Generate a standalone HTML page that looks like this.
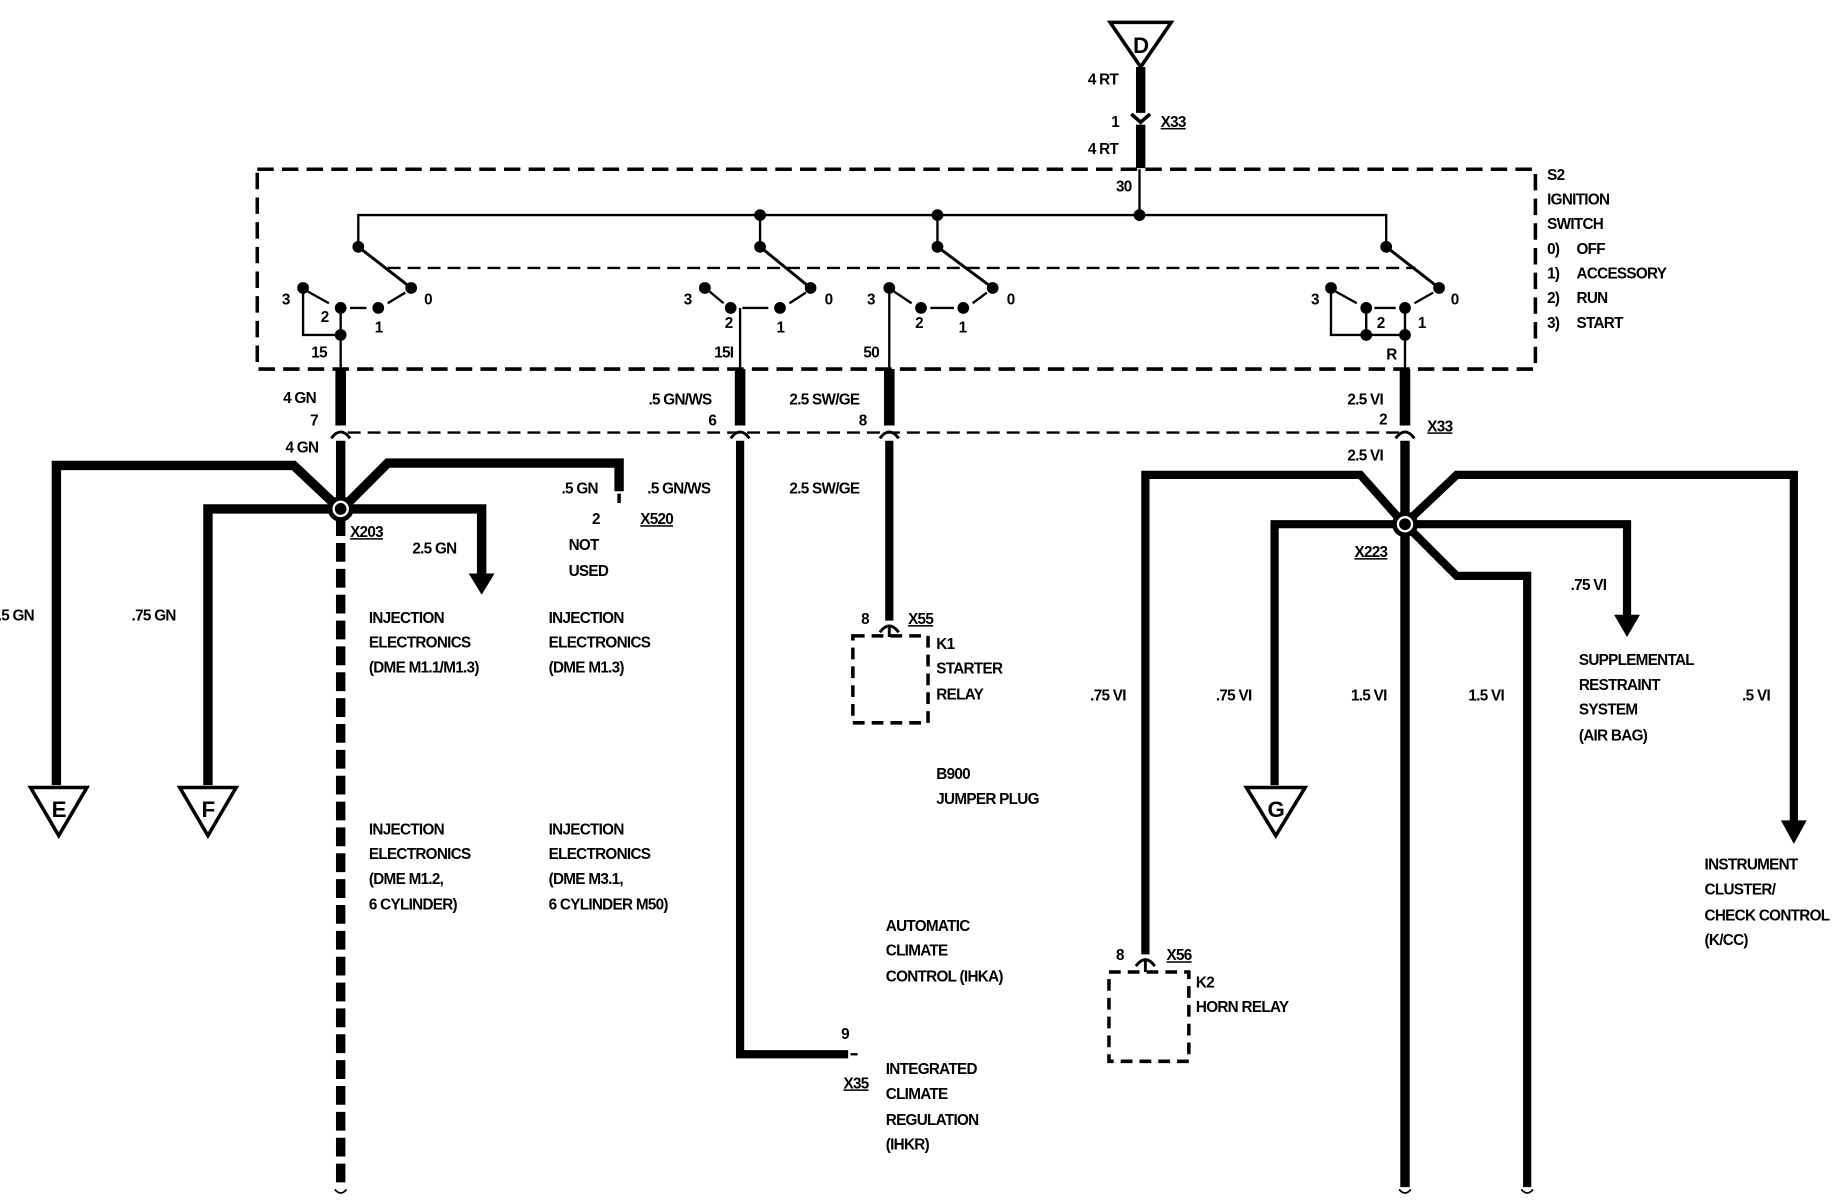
<!DOCTYPE html>
<html><head><meta charset="utf-8"><style>
html,body{margin:0;padding:0;background:#fff;}
svg{display:block;}
text{font-family:"Liberation Sans",sans-serif;font-weight:bold;font-size:13px;fill:#000;letter-spacing:-0.6px;}
</style></head><body>
<svg width="1842" height="1200" viewBox="0 0 1568 1021" preserveAspectRatio="none" xmlns="http://www.w3.org/2000/svg">
<g fill="none" stroke="#000" stroke-linecap="butt" stroke-linejoin="miter">
<polygon points="945,19 997,19 971,57" stroke-width="3" fill="#fff"/>
<line x1="971" y1="57" x2="971" y2="96" stroke-width="8"/>
<path d="M963,97 L971,104 L979,97" stroke-width="3"/>
<line x1="971" y1="106" x2="971" y2="143" stroke-width="8"/>
<rect x="219" y="144" width="1088" height="170" stroke-width="3" stroke-dasharray="14,7"/>
<line x1="970" y1="144" x2="970" y2="183" stroke-width="2"/>
<polyline points="305,208 305,183 1180,183 1180,208" stroke-width="2"/>
<line x1="647" y1="183" x2="647" y2="210" stroke-width="2"/>
<line x1="798" y1="183" x2="798" y2="210" stroke-width="2"/>
<line x1="305" y1="210" x2="350" y2="245" stroke-width="2.5"/>
<line x1="647" y1="210" x2="690" y2="245" stroke-width="2.5"/>
<line x1="798" y1="210" x2="845" y2="245" stroke-width="2.5"/>
<line x1="1180" y1="210" x2="1225" y2="245" stroke-width="2.5"/>
<line x1="330" y1="228" x2="1205" y2="228" stroke-width="2" stroke-dasharray="11,6"/>
<path d="M262,248 L280,258 M298,262 L312,262 M330,258 L345,249" stroke-width="2"/>
<path d="M604,248 L616,258 M632,262 L654,262 M672,258 L686,249" stroke-width="2"/>
<path d="M761,248 L776,258 M792,262 L812,262 M828,258 L840,249" stroke-width="2"/>
<path d="M1137,248 L1155,258 M1170,262 L1188,262 M1204,258 L1220,249" stroke-width="2"/>
<polyline points="258,245 258,285 290,285" stroke-width="2"/>
<line x1="290" y1="262" x2="290" y2="314" stroke-width="2"/>
<line x1="630" y1="262" x2="630" y2="314" stroke-width="2"/>
<line x1="757" y1="245" x2="757" y2="314" stroke-width="2"/>
<polyline points="1133,245 1133,285 1196,285" stroke-width="2"/>
<line x1="1163" y1="262" x2="1163" y2="285" stroke-width="2"/>
<line x1="1196" y1="262" x2="1196" y2="314" stroke-width="2"/>
<line x1="290" y1="314" x2="290" y2="362" stroke-width="9"/>
<line x1="630" y1="314" x2="630" y2="362" stroke-width="9"/>
<line x1="757" y1="314" x2="757" y2="362" stroke-width="9"/>
<line x1="1196" y1="314" x2="1196" y2="362" stroke-width="9"/>
<line x1="296" y1="368" x2="1192" y2="368" stroke-width="2" stroke-dasharray="11,6"/>
<path d="M282,373 Q290,362 298,373 M622,373 Q630,362 638,373 M749,373 Q757,362 765,373 M1188,373 Q1196,362 1204,373" stroke-width="2.5"/>
<line x1="290" y1="375" x2="290" y2="428" stroke-width="8"/>
<polyline points="284,428 250,396 48,396 48,668" stroke-width="8"/>
<polyline points="282,433 177,433 177,668" stroke-width="8"/>
<polyline points="296,428 330,394 527,394 527,418" stroke-width="8"/>
<line x1="527" y1="420" x2="527" y2="428" stroke-width="3"/>
<polyline points="298,433 410,433 410,490" stroke-width="8"/>
<polygon points="399,488 421,488 410,506" fill="#000" stroke="none"/>
<line x1="290" y1="440" x2="290" y2="1010" stroke-width="8" stroke-dasharray="16,6"/>
<polygon points="26,670 74,670 50,711" stroke-width="3" fill="#fff"/>
<polygon points="153,670 201,670 177,711" stroke-width="3" fill="#fff"/>
<polyline points="630,375 630,897 722,897" stroke-width="7"/>
<line x1="724" y1="897" x2="730" y2="897" stroke-width="2"/>
<line x1="757" y1="375" x2="757" y2="528" stroke-width="7"/>
<path d="M749,538 Q757,527 765,538 M757,533 L757,542" stroke-width="2.5"/>
<rect x="726" y="541" width="64" height="74" stroke-width="3" stroke-dasharray="10,6"/>
<line x1="1196" y1="375" x2="1196" y2="1010" stroke-width="8"/>
<polyline points="1190,440 1158,404 975,404 975,812" stroke-width="7"/>
<path d="M967,822 Q975,811 983,822 M975,817 L975,827" stroke-width="2.5"/>
<rect x="944" y="827" width="68" height="76" stroke-width="3" stroke-dasharray="10,6"/>
<polyline points="1188,446 1085,446 1085,668" stroke-width="7"/>
<polygon points="1061,670 1111,670 1086,711" stroke-width="3" fill="#fff"/>
<polyline points="1202,440 1240,404 1527,404 1527,700" stroke-width="7"/>
<polygon points="1516,698 1538,698 1527,718" fill="#000" stroke="none"/>
<polyline points="1204,446 1385,446 1385,525" stroke-width="7"/>
<polygon points="1374,523 1396,523 1385,542" fill="#000" stroke="none"/>
<polyline points="1202,452 1240,490 1300,490 1300,1010" stroke-width="7"/>
<path d="M285,1012 q5,6 10,0 M1191,1012 q5,6 10,0 M1295,1012 q5,6 10,0" stroke-width="1.5"/>
</g>
<g fill="#000">
<circle cx="305" cy="210" r="5"/><circle cx="350" cy="245" r="5"/><circle cx="258" cy="245" r="5"/><circle cx="290" cy="262" r="5"/><circle cx="322" cy="262" r="5"/><circle cx="290" cy="285" r="5"/>
<circle cx="647" cy="183" r="5"/><circle cx="647" cy="210" r="5"/><circle cx="690" cy="245" r="5"/><circle cx="600" cy="245" r="5"/><circle cx="622" cy="262" r="5"/><circle cx="664" cy="262" r="5"/>
<circle cx="798" cy="183" r="5"/><circle cx="798" cy="210" r="5"/><circle cx="845" cy="245" r="5"/><circle cx="757" cy="245" r="5"/><circle cx="784" cy="262" r="5"/><circle cx="820" cy="262" r="5"/>
<circle cx="970" cy="183" r="5"/>
<circle cx="1180" cy="210" r="5"/><circle cx="1225" cy="245" r="5"/><circle cx="1133" cy="245" r="5"/><circle cx="1163" cy="262" r="5"/><circle cx="1196" cy="262" r="5"/><circle cx="1163" cy="285" r="5"/><circle cx="1196" cy="285" r="5"/>
<circle cx="290" cy="433" r="11"/><circle cx="290" cy="433" r="7" fill="#fff"/><circle cx="290" cy="433" r="5"/>
<circle cx="1196" cy="446" r="11"/><circle cx="1196" cy="446" r="7" fill="#fff"/><circle cx="1196" cy="446" r="5"/>
</g>
<g>
<text x="971" y="45" text-anchor="middle" style="font-size:19px">D</text>
<text x="50" y="695" text-anchor="middle" style="font-size:19px">E</text>
<text x="177" y="695" text-anchor="middle" style="font-size:19px">F</text>
<text x="1086" y="695" text-anchor="middle" style="font-size:19px">G</text>
<text x="926" y="72">4 RT</text><text x="946" y="108">1</text><text x="988" y="108" text-decoration="underline">X33</text><text x="926" y="131">4 RT</text>
<text x="950" y="163">30</text>
<text x="1317" y="153">S2</text><text x="1317" y="174">IGNITION</text><text x="1317" y="195">SWITCH</text>
<text x="1317" y="216">0)</text><text x="1342" y="216">OFF</text>
<text x="1317" y="237">1)</text><text x="1342" y="237">ACCESSORY</text>
<text x="1317" y="258">2)</text><text x="1342" y="258">RUN</text>
<text x="1317" y="279">3)</text><text x="1342" y="279">START</text>
<text x="240" y="259">3</text><text x="273" y="274">2</text><text x="319" y="283">1</text><text x="361" y="259">0</text><text x="265" y="304">15</text>
<text x="582" y="259">3</text><text x="617" y="279">2</text><text x="661" y="283">1</text><text x="702" y="259">0</text><text x="608" y="304">15I</text>
<text x="738" y="259">3</text><text x="779" y="279">2</text><text x="816" y="283">1</text><text x="857" y="259">0</text><text x="735" y="304">50</text>
<text x="1116" y="259">3</text><text x="1172" y="279">2</text><text x="1207" y="279">1</text><text x="1235" y="259">0</text><text x="1180" y="306">R</text>
<text x="241" y="343">4 GN</text><text x="264" y="362">7</text><text x="243" y="385">4 GN</text>
<text x="552" y="344">.5 GN/WS</text><text x="603" y="362">6</text>
<text x="672" y="344">2.5 SW/GE</text><text x="731" y="362">8</text>
<text x="1147" y="344">2.5 VI</text><text x="1174" y="361">2</text><text x="1215" y="367" text-decoration="underline">X33</text><text x="1147" y="392">2.5 VI</text>
<text x="298" y="457" text-decoration="underline">X203</text><text x="351" y="471">2.5 GN</text>
<text x="478" y="420">.5 GN</text><text x="504" y="446">2</text><text x="545" y="446" text-decoration="underline">X520</text>
<text x="484" y="468">NOT</text><text x="484" y="490">USED</text>
<text x="551" y="420">.5 GN/WS</text><text x="672" y="420">2.5 SW/GE</text>
<text x="-2" y="528">.5 GN</text><text x="112" y="528">.75 GN</text>
<text x="314" y="530">INJECTION</text><text x="314" y="551">ELECTRONICS</text><text x="314" y="572">(DME M1.1/M1.3)</text>
<text x="467" y="530">INJECTION</text><text x="467" y="551">ELECTRONICS</text><text x="467" y="572">(DME M1.3)</text>
<text x="314" y="710">INJECTION</text><text x="314" y="731">ELECTRONICS</text><text x="314" y="752">(DME M1.2,</text><text x="314" y="774">6 CYLINDER)</text>
<text x="467" y="710">INJECTION</text><text x="467" y="731">ELECTRONICS</text><text x="467" y="752">(DME M3.1,</text><text x="467" y="774">6 CYLINDER M50)</text>
<text x="733" y="531">8</text><text x="773" y="531" text-decoration="underline">X55</text>
<text x="797" y="552">K1</text><text x="797" y="573">STARTER</text><text x="797" y="595">RELAY</text>
<text x="797" y="663">B900</text><text x="797" y="684">JUMPER PLUG</text>
<text x="754" y="792">AUTOMATIC</text><text x="754" y="813">CLIMATE</text><text x="754" y="835">CONTROL (IHKA)</text>
<text x="716" y="884">9</text><text x="718" y="926" text-decoration="underline">X35</text>
<text x="754" y="914">INTEGRATED</text><text x="754" y="935">CLIMATE</text><text x="754" y="957">REGULATION</text><text x="754" y="978">(IHKR)</text>
<text x="1153" y="474" text-decoration="underline">X223</text>
<text x="1337" y="502">.75 VI</text>
<text x="928" y="596">.75 VI</text><text x="1035" y="596">.75 VI</text><text x="1150" y="596">1.5 VI</text><text x="1250" y="596">1.5 VI</text><text x="1483" y="596">.5 VI</text>
<text x="1344" y="566">SUPPLEMENTAL</text><text x="1344" y="587">RESTRAINT</text><text x="1344" y="608">SYSTEM</text><text x="1344" y="630">(AIR BAG)</text>
<text x="1451" y="740">INSTRUMENT</text><text x="1451" y="761">CLUSTER/</text><text x="1451" y="783">CHECK CONTROL</text><text x="1451" y="804">(K/CC)</text>
<text x="950" y="817">8</text><text x="993" y="817" text-decoration="underline">X56</text>
<text x="1018" y="840">K2</text><text x="1018" y="861">HORN RELAY</text>
</g>
</svg>
</body></html>
